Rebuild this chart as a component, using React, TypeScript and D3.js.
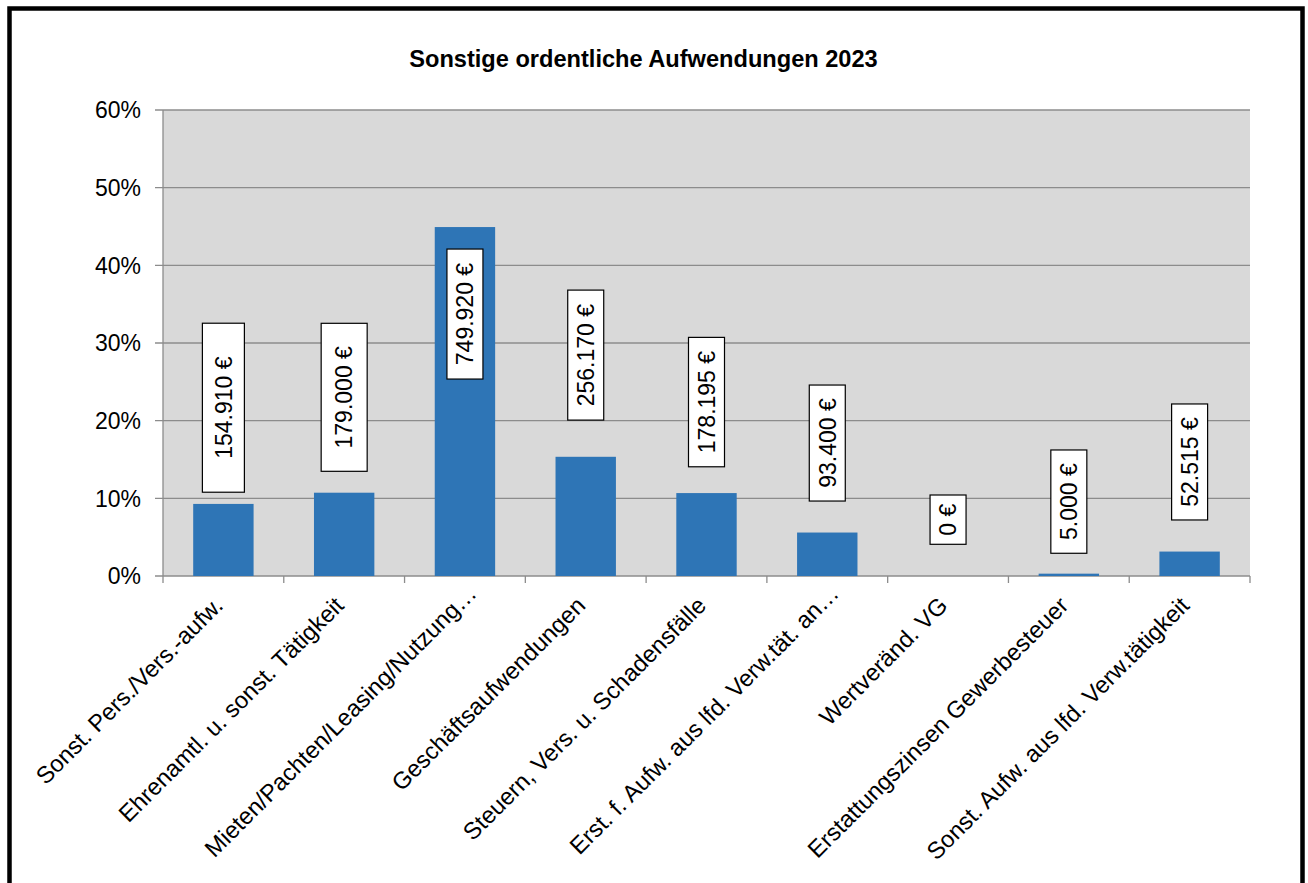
import React from "react";
import * as d3 from "d3";

const title = "Sonstige ordentliche Aufwendungen 2023";
const categories = [
  "Sonst. Pers./Vers.-aufw.",
  "Ehrenamtl. u. sonst. Tätigkeit",
  "Mieten/Pachten/Leasing/Nutzung…",
  "Geschäftsaufwendungen",
  "Steuern, Vers. u. Schadensfälle",
  "Erst. f. Aufw. aus lfd. Verw.tät. an…",
  "Wertveränd. VG",
  "Erstattungszinsen Gewerbesteuer",
  "Sonst. Aufw. aus lfd. Verw.tätigkeit",
];
const amounts = [154910, 179000, 749920, 256170, 178195, 93400, 0, 5000, 52515];
const yTicks = [0, 0.1, 0.2, 0.3, 0.4, 0.5, 0.6];

// manual label placement (as in the original): gap above bar top, box length, box width (px)
const labelGap = [11.7, 21.4, -152, 36.7, 26.3, 31.5, 31.7, 20.4, 31.6];
const labelLen = [169, 148, 130, 130, 129.4, 116, 49.3, 103.3, 116];
const labelWidth = [42, 46, 36, 36, 36, 36, 36, 36, 36];

const W = 1308;
const H = 883;
const FONT = "Liberation Sans, Arial, sans-serif";

export default function App() {
  const total = d3.sum(amounts);
  const shares = amounts.map((a) => a / total);
  const x = d3.scaleBand<string>().domain(categories).range([163, 1250]).padding(0);
  const y = d3.scaleLinear().domain([0, 0.6]).range([576, 110]);
  const bw = x.bandwidth() * 0.5;
  const fmtPct = d3.format(".0%");
  const fmtEur = (v: number) =>
    v.toString().replace(/\B(?=(\d{3})+(?!\d))/g, ".") + " €";
  const [x0, x1] = x.range();
  const [yb, yt] = y.range();
  const grid = "#8c8c8c";

  return (
    <svg
      width={W}
      height={H}
      style={{ position: "absolute", left: 0, top: 0, display: "block", background: "#fff" }}
      fontFamily={FONT}
    >
      <rect x={0} y={0} width={W} height={H} fill="#fff" />
      <rect x={9.5} y={8.5} width={1293} height={H + 20} fill="none" stroke="#000" strokeWidth={4.5} />
      <text x={643.5} y={67} textAnchor="middle" fontSize={23.6} fontWeight="bold" fill="#000">
        {title}
      </text>
      {/* plot area */}
      <rect x={x0} y={yt} width={x1 - x0} height={yb - yt} fill="#d9d9d9" />
      {yTicks.map((t) => (
        <g key={t}>
          <line x1={x0 - 8} x2={x1} y1={y(t)} y2={y(t)} stroke={grid} strokeWidth={1.3} />
          <text x={141} y={y(t)} dy="0.36em" textAnchor="end" fontSize={23} fill="#000">
            {fmtPct(t)}
          </text>
        </g>
      ))}
      <line x1={x0} x2={x0} y1={yt} y2={yb} stroke={grid} strokeWidth={1.3} />
      {categories.map((c, i) => (
        <line key={"t" + i} x1={x(c)!} x2={x(c)!} y1={yb} y2={yb + 7} stroke={grid} strokeWidth={1.3} />
      ))}
      <line x1={x1} x2={x1} y1={yb} y2={yb + 7} stroke={grid} strokeWidth={1.3} />
      {/* bars */}
      {categories.map((c, i) => {
        const cx = x(c)! + x.bandwidth() / 2;
        return (
          <rect
            key={"b" + i}
            x={cx - bw / 2}
            y={y(shares[i])}
            width={bw}
            height={yb - y(shares[i])}
            fill="#2e75b6"
          />
        );
      })}
      {/* value labels */}
      {categories.map((c, i) => {
        const cx = x(c)! + x.bandwidth() / 2;
        const bottom = y(shares[i]) - labelGap[i];
        const top = bottom - labelLen[i];
        const w = labelWidth[i];
        const cy = (top + bottom) / 2;
        return (
          <g key={"l" + i}>
            <rect x={cx - w / 2} y={top} width={w} height={bottom - top} fill="#fff" stroke="#000" strokeWidth={1.2} />
            <text
              transform={`translate(${cx},${cy}) rotate(-90)`}
              textAnchor="middle"
              dy="0.36em"
              fontSize={23}
              fill="#000"
            >
              {fmtEur(amounts[i])}
            </text>
          </g>
        );
      })}
      {/* category labels */}
      {categories.map((c, i) => {
        const cx = x(c)! + x.bandwidth() / 2;
        const truncated = c.endsWith("…");
        return (
          <text
            key={"c" + i}
            transform={`translate(${cx + 1},${607}) rotate(-45)`}
            textAnchor="end"
            dx={truncated ? 17 : 0}
            fontSize={23.7}
            fill="#000"
          >
            {c}
          </text>
        );
      })}
    </svg>
  );
}
